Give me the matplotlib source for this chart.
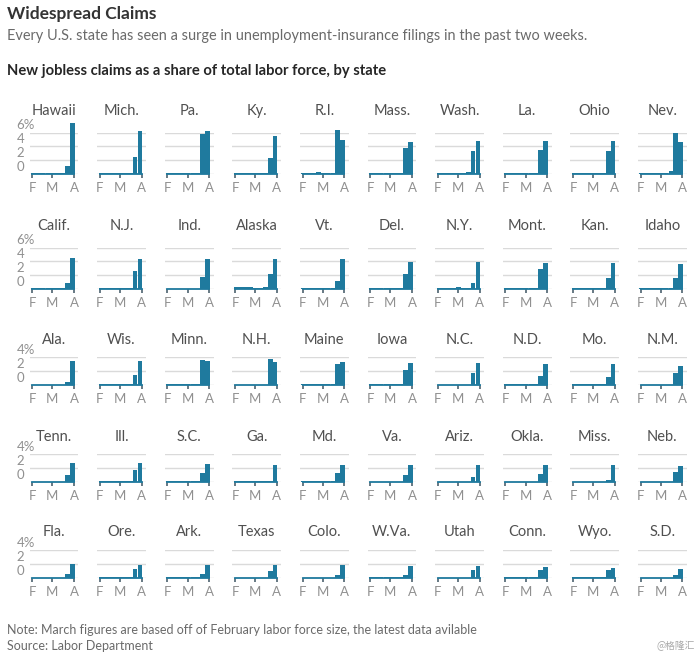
"""
Small multiples: new jobless claims as a share of the labor force, by state
"""

import numpy as np
import pandas as pd
import matplotlib
matplotlib.use("Agg")
import matplotlib.pyplot as plt

plt.rcParams["font.family"] = ["Lato", "DejaVu Sans"]

# report dates (Thursday release of each weekly claims figure)
report_dates = ["2020-02-06", "2020-02-13", "2020-02-20", "2020-02-27",
                "2020-03-05", "2020-03-12", "2020-03-19", "2020-03-26",
                "2020-04-02"]
tick_dates = ["2020-02-01", "2020-03-01", "2020-04-01"]
tick_labels = ["F", "M", "A"]

states = [
    "Hawaii", "Mich.", "Pa.", "Ky.", "R.I.", "Mass.", "Wash.", "La.", "Ohio", "Nev.",
    "Calif.", "N.J.", "Ind.", "Alaska", "Vt.", "Del.", "N.Y.", "Mont.", "Kan.", "Idaho",
    "Ala.", "Wis.", "Minn.", "N.H.", "Maine", "Iowa", "N.C.", "N.D.", "Mo.", "N.M.",
    "Tenn.", "Ill.", "S.C.", "Ga.", "Md.", "Va.", "Ariz.", "Okla.", "Miss.", "Neb.",
    "Fla.", "Ore.", "Ark.", "Texas", "Colo.", "W.Va.", "Utah", "Conn.", "Wyo.", "S.D.",
]

# share of labor force (%), one row per state, one value per week
claims = [
    [0.1, 0.1, 0.1, 0.1, 0.1, 0.1, 0.1, 1.2, 7.4],    # Hawaii
    [0.1, 0.1, 0.1, 0.1, 0.1, 0.1, 0.1, 2.5, 6.3],    # Mich.
    [0.15, 0.15, 0.15, 0.15, 0.1, 0.1, 0.1, 5.8, 6.2],  # Pa.
    [0.1, 0.1, 0.1, 0.1, 0.1, 0.1, 0.1, 2.3, 5.5],    # Ky.
    [0.1, 0.1, 0.15, 0.3, 0.1, 0.1, 0.1, 6.4, 5.0],   # R.I.
    [0.1, 0.1, 0.1, 0.2, 0.1, 0.1, 0.2, 3.8, 4.7],    # Mass.
    [0.1, 0.1, 0.1, 0.1, 0.1, 0.1, 0.3, 3.3, 4.8],    # Wash.
    [0.1, 0.1, 0.1, 0.1, 0.1, 0.1, 0.1, 3.5, 4.8],    # La.
    [0.1, 0.1, 0.1, 0.1, 0.1, 0.1, 0.1, 3.4, 4.8],    # Ohio
    [0.1, 0.1, 0.1, 0.1, 0.1, 0.1, 0.4, 6.0, 4.6],    # Nev.
    [0.1, 0.1, 0.1, 0.1, 0.1, 0.1, 0.15, 0.9, 4.5],   # Calif.
    [0.1, 0.1, 0.1, 0.1, 0.1, 0.1, 0.1, 2.6, 4.4],    # N.J.
    [0.05, 0.05, 0.05, 0.05, 0.05, 0.05, 0.05, 1.7, 4.3],  # Ind.
    [0.3, 0.3, 0.3, 0.25, 0.2, 0.2, 0.25, 2.2, 4.3],  # Alaska
    [0.1, 0.1, 0.1, 0.1, 0.2, 0.1, 0.1, 1.1, 4.3],    # Vt.
    [0.1, 0.1, 0.1, 0.1, 0.1, 0.1, 0.1, 2.2, 3.9],    # Del.
    [0.1, 0.1, 0.1, 0.1, 0.25, 0.1, 0.1, 0.9, 3.9],   # N.Y.
    [0.15, 0.2, 0.15, 0.1, 0.1, 0.1, 0.1, 2.9, 3.7],  # Mont.
    [0.1, 0.15, 0.1, 0.1, 0.1, 0.1, 0.1, 1.6, 3.7],   # Kan.
    [0.15, 0.15, 0.1, 0.1, 0.1, 0.1, 0.1, 1.6, 3.6],  # Idaho
    [0.05, 0.05, 0.05, 0.05, 0.05, 0.05, 0.05, 0.4, 3.5],  # Ala.
    [0.15, 0.15, 0.1, 0.1, 0.1, 0.1, 0.1, 1.5, 3.5],  # Wis.
    [0.1, 0.1, 0.1, 0.1, 0.1, 0.1, 0.1, 3.6, 3.5],    # Minn.
    [0.05, 0.05, 0.05, 0.05, 0.05, 0.05, 0.05, 3.7, 3.4],  # N.H.
    [0.1, 0.1, 0.1, 0.1, 0.1, 0.1, 0.1, 3.0, 3.3],    # Maine
    [0.15, 0.15, 0.1, 0.1, 0.1, 0.1, 0.1, 2.2, 3.2],  # Iowa
    [0.05, 0.05, 0.05, 0.05, 0.05, 0.05, 0.05, 1.8, 3.2],  # N.C.
    [0.1, 0.1, 0.1, 0.1, 0.1, 0.1, 0.1, 1.3, 3.0],    # N.D.
    [0.1, 0.1, 0.1, 0.1, 0.1, 0.1, 0.1, 1.2, 3.0],    # Mo.
    [0.05, 0.05, 0.05, 0.05, 0.05, 0.05, 0.05, 1.8, 2.8],  # N.M.
    [0.05, 0.05, 0.05, 0.05, 0.05, 0.05, 0.05, 1.05, 2.7],  # Tenn.
    [0.1, 0.1, 0.15, 0.1, 0.15, 0.1, 0.1, 1.7, 2.7],  # Ill.
    [0.1, 0.1, 0.1, 0.1, 0.1, 0.1, 0.1, 1.3, 2.6],    # S.C.
    [0.1, 0.1, 0.1, 0.1, 0.1, 0.1, 0.1, 0.15, 2.5],   # Ga.
    [0.1, 0.1, 0.1, 0.1, 0.1, 0.1, 0.1, 1.3, 2.5],    # Md.
    [0.05, 0.05, 0.05, 0.05, 0.05, 0.05, 0.05, 1.0, 2.5],  # Va.
    [0.05, 0.05, 0.05, 0.05, 0.05, 0.05, 0.05, 0.7, 2.4],  # Ariz.
    [0.05, 0.05, 0.05, 0.05, 0.05, 0.05, 0.05, 1.2, 2.4],  # Okla.
    [0.05, 0.05, 0.05, 0.05, 0.05, 0.05, 0.05, 0.35, 2.5],  # Miss.
    [0.05, 0.05, 0.05, 0.05, 0.05, 0.05, 0.05, 1.4, 2.3],  # Neb.
    [0.05, 0.05, 0.05, 0.05, 0.05, 0.05, 0.05, 0.6, 2.05],  # Fla.
    [0.2, 0.2, 0.2, 0.2, 0.2, 0.2, 0.2, 1.3, 1.9],    # Ore.
    [0.1, 0.1, 0.1, 0.1, 0.1, 0.1, 0.1, 0.6, 1.9],    # Ark.
    [0.05, 0.05, 0.05, 0.05, 0.05, 0.05, 0.05, 1.0, 1.9],  # Texas
    [0.05, 0.05, 0.05, 0.05, 0.05, 0.05, 0.05, 0.5, 1.9],  # Colo.
    [0.1, 0.1, 0.1, 0.1, 0.1, 0.1, 0.1, 0.4, 1.7],    # W.Va.
    [0.05, 0.05, 0.05, 0.05, 0.05, 0.05, 0.05, 1.2, 1.7],  # Utah
    [0.1, 0.1, 0.1, 0.1, 0.1, 0.1, 0.1, 1.2, 1.65],   # Conn.
    [0.2, 0.2, 0.2, 0.15, 0.15, 0.15, 0.15, 1.2, 1.4],  # Wyo.
    [0.05, 0.05, 0.05, 0.05, 0.05, 0.05, 0.05, 0.4, 1.35],  # S.D.
]

# y range per row of panels
row_ymax = [6, 6, 4, 4, 4]

# ---- layout (pixels) ----
W, H = 700, 655
ncols = 10
col_left0, col_step, ax_w = 29.6, 67.6, 48.7
px_per_unit = 6.9
row_base = [174, 289, 385, 482, 578]
title_gap = [22, 22, 17.5, 17.5, 18]

bar_color = "#1f7a9e"
grid_color = "#dadada"
text_gray = "#909090"

# convert dates to day offsets from Feb 1
origin = pd.Timestamp(tick_dates[0])
x_bars = np.array([(pd.Timestamp(d) - origin).days for d in report_dates])
x_ticks = np.array([(pd.Timestamp(d) - origin).days for d in tick_dates])
data = np.array(claims)

fig = plt.figure(figsize=(W / 100, H / 100), dpi=100)

for i, name in enumerate(states):
    row, col = divmod(i, ncols)
    ymax = row_ymax[row]
    ax_h = ymax * px_per_unit
    left = col_left0 + col * col_step
    bottom = H - row_base[row]
    ax = fig.add_axes([left / W, bottom / H, ax_w / W, ax_h / H])

    ax.bar(x_bars, data[i], width=-6.85, align="edge", color=bar_color,
           linewidth=0, clip_on=False, zorder=3)

    ax.set_xlim(x_ticks[0] - 3.8, x_ticks[-1] + 6.2)
    ax.set_ylim(0, ymax)

    # gridlines
    ax.set_yticks(np.arange(0, ymax + 1, 2))
    ax.grid(axis="y", color=grid_color, linewidth=1.0, zorder=0)
    ax.tick_params(axis="y", length=0, labelleft=False)

    for side in ["top", "right", "left"]:
        ax.spines[side].set_visible(False)
    ax.spines["bottom"].set_position(("data", 0))
    ax.spines["bottom"].set_bounds(x_ticks[0], x_ticks[-1])
    ax.spines["bottom"].set_color(bar_color)
    ax.spines["bottom"].set_linewidth(1.3)
    ax.spines["bottom"].set_zorder(4)

    ax.set_xticks(x_ticks)
    ax.set_xticklabels(tick_labels)
    ax.tick_params(axis="x", length=3, width=1.1, color="#3d5563",
                   pad=2.5, labelsize=9.5, labelcolor=text_gray)

    ax.annotate(name, xy=(0.5, 1), xycoords="axes fraction",
                xytext=(0, title_gap[row] * 0.72), textcoords="offset points",
                ha="center", va="center", fontsize=10.5, color="#505050")

    # y labels on the first column, sitting just above the gridlines
    if col == 0:
        for v in np.arange(0, ymax + 1, 2):
            lab = f"{v}%" if v == ymax else f"{v}"
            ax.annotate(lab, xy=(0, v), xycoords=("axes fraction", "data"),
                        xytext=(-9.3, 1.0), textcoords="offset points",
                        ha="left", va="bottom", fontsize=9.5, color=text_gray)

# headings
fig.text(7 / W, 1 - 14 / H, "Widespread Claims", fontsize=12.5,
         fontweight="bold", color="#333333", va="center", ha="left")
fig.text(7 / W, 1 - 36 / H,
         "Every U.S. state has seen a surge in unemployment-insurance "
         "filings in the past two weeks.",
         fontsize=10.45, color="#6a6a6a", va="center", ha="left")
fig.text(7 / W, 1 - 71 / H,
         "New jobless claims as a share of total labor force, by state",
         fontsize=10.6, fontweight="bold", color="#262626", va="center", ha="left")

# footer
fig.text(7 / W, 1 - 630 / H,
         "Note: March figures are based off of February labor force size, "
         "the latest data avilable",
         fontsize=9.0, color="#6a6a6a", va="center", ha="left")
fig.text(7 / W, 1 - 646 / H, "Source: Labor Department",
         fontsize=9.0, color="#6a6a6a", va="center", ha="left")
fig.text(695 / W, 1 - 646 / H, "@格隆汇", fontsize=7,
         family=["Noto Sans CJK SC", "DejaVu Sans"], color="#a8a8a8",
         va="center", ha="right")

fig.savefig("out.png", dpi=100)
plt.close()
